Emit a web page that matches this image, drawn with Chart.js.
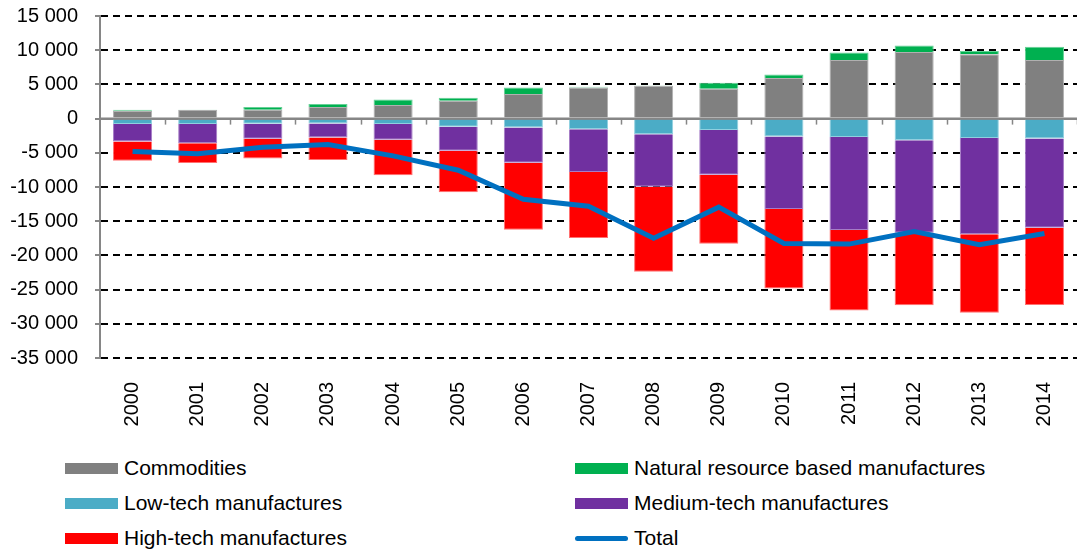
<!DOCTYPE html>
<html>
<head>
<meta charset="utf-8">
<script src="https://cdn.jsdelivr.net/npm/chart.js@4/dist/chart.umd.min.js"></script>
<style>
    body { margin: 0; background: #fff; font-family: 'Liberation Sans', Arial, sans-serif; }
    #wrap { position: relative; width: 1077px; height: 550px; overflow: hidden; }
    #chart { position: absolute; left: 0; top: -13px; }
    .legend-item { position: absolute; display: flex; align-items: center; font-size: 21px; color: #000; height: 30px; }
    .swatch { width: 53px; height: 11px; margin-right: 6px; }
    .swatch.line { height: 5px; border-radius: 3px; }
</style>
</head>
<body>
<div id="wrap">
    <canvas id="chart" width="1077" height="455"></canvas>
    <div id="legend"></div>
</div>
<script>
const years = ["2000", "2001", "2002", "2003", "2004", "2005", "2006", "2007", "2008", "2009", "2010", "2011", "2012", "2013", "2014"];
const commodities = [1150, 1250, 1300, 1700, 2000, 2600, 3600, 4550, 4800, 4350, 5950, 8550, 9750, 9400, 8550];
const naturalResource = [150, 50, 400, 450, 800, 450, 950, 100, 50, 900, 500, 1100, 950, 500, 1950];
const lowTech = [-800, -800, -750, -700, -800, -1200, -1300, -1550, -2300, -1650, -2600, -2700, -3150, -2850, -2900];
const mediumTech = [-2550, -2800, -2200, -2050, -2300, -3500, -5150, -6250, -7650, -6550, -10600, -13600, -13550, -14050, -13050];
const highTech = [-2800, -2900, -2900, -3300, -5200, -6050, -9800, -9650, -12450, -10100, -11650, -11750, -10600, -11500, -11300];
const total = [-4800, -5150, -4200, -3800, -5450, -7550, -11800, -12800, -17500, -12950, -18250, -18350, -16500, -18450, -16800];

const axisGray = '#868686';

const legendItems = [
    { label: 'Commodities', color: '#808080' },
    { label: 'Natural resource based manufactures', color: '#00B050' },
    { label: 'Low-tech manufactures', color: '#4BACC6' },
    { label: 'Medium-tech manufactures', color: '#7030A0' },
    { label: 'High-tech manufactures', color: '#FF0000' },
    { label: 'Total', color: '#0070C0', line: true }
];

function buildLegend() {
    const container = document.getElementById('legend');
    legendItems.forEach((item, i) => {
        const div = document.createElement('div');
        div.className = 'legend-item';
        div.style.left = (i % 2 === 0 ? 65 : 575) + 'px';
        div.style.top = (453 + Math.floor(i / 2) * 35) + 'px';
        const sw = document.createElement('span');
        sw.className = 'swatch' + (item.line ? ' line' : '');
        sw.style.background = item.color;
        div.appendChild(sw);
        div.appendChild(document.createTextNode(item.label));
        container.appendChild(div);
    });
}

function fmt(v) {
    const s = Math.abs(v).toString().replace(/\B(?=(\d{3})+(?!\d))/g, ' ');
    return (v < 0 ? '-' : '') + s;
}

// zero line + little tick marks on it, drawn over the bars
const zeroAxis = {
    id: 'zeroAxis',
    afterDatasetsDraw(chart) {
        const { ctx, scales: { x, y }, chartArea } = chart;
        const y0 = y.getPixelForValue(0);
        const half = (x.getPixelForValue(1) - x.getPixelForValue(0)) / 2;
        ctx.save();
        ctx.strokeStyle = axisGray;
        ctx.lineWidth = 2;
        ctx.beginPath();
        ctx.moveTo(chartArea.left, y0);
        ctx.lineTo(chartArea.right, y0);
        ctx.stroke();
        ctx.lineWidth = 1.5;
        for (let i = 0; i < years.length; i++) {
            const px = Math.round(x.getPixelForValue(i) + half) + 0.5;
            ctx.beginPath();
            ctx.moveTo(px, y0);
            ctx.lineTo(px, y0 + 6);
            ctx.stroke();
        }
        ctx.restore();
    }
};

function barSet(label, data, color, border) {
    return {
        type: 'bar', label, data,
        backgroundColor: color,
        borderColor: border,
        borderWidth: 1,
        order: 1
    };
}

buildLegend();

new Chart(document.getElementById('chart'), {
    data: {
        labels: years,
        datasets: [
            barSet('Commodities', commodities, '#808080', '#b0b0b0'),
            barSet('Natural resource based manufactures', naturalResource, '#00B050', '#66d096'),
            barSet('Low-tech manufactures', lowTech, '#4BACC6', '#8fd0e0'),
            barSet('Medium-tech manufactures', mediumTech, '#7030A0', '#a57cc6'),
            barSet('High-tech manufactures', highTech, '#FF0000', '#ff7070'),
            {
                type: 'line', label: 'Total', data: total,
                borderColor: '#0070C0', borderWidth: 5,
                pointRadius: 0, tension: 0, fill: false,
                stack: 'total', order: 0
            }
        ]
    },
    options: {
        responsive: false,
        animation: false,
        devicePixelRatio: 1,
        layout: { padding: { top: 5, right: 0, bottom: 0, left: 0 } },
        plugins: { legend: { display: false }, tooltip: { enabled: false } },
        datasets: { bar: { categoryPercentage: 1, barPercentage: 0.6 } },
        scales: {
            x: {
                stacked: true,
                afterFit: s => { s.height = 84; },
                grid: { display: true, drawOnChartArea: false, drawTicks: true, tickLength: 19, tickColor: 'rgba(0,0,0,0)', color: 'rgba(0,0,0,0)' },
                border: { display: false },
                ticks: {
                    color: '#000', padding: 5, minRotation: 90, maxRotation: 90,
                    font: { family: "'Liberation Sans', Arial", size: 20 }
                }
            },
            y: {
                stacked: true,
                min: -35000, max: 15000,
                afterFit: s => { s.width = 100; },
                grid: {
                    color: c => c.tick && c.tick.value === 0 ? axisGray : '#000',
                    lineWidth: 2,
                    tickLength: 5,
                    tickColor: axisGray,
                    tickWidth: 2
                },
                border: {
                    color: axisGray, width: 2,
                    dash: c => c.tick && c.tick.value === 0 ? [] : [7, 5]
                },
                ticks: {
                    stepSize: 5000, color: '#000', padding: 17,
                    font: { family: "'Liberation Sans', Arial", size: 20 },
                    callback: v => fmt(v)
                }
            }
        }
    },
    plugins: [zeroAxis]
});
</script>
</body>
</html>
